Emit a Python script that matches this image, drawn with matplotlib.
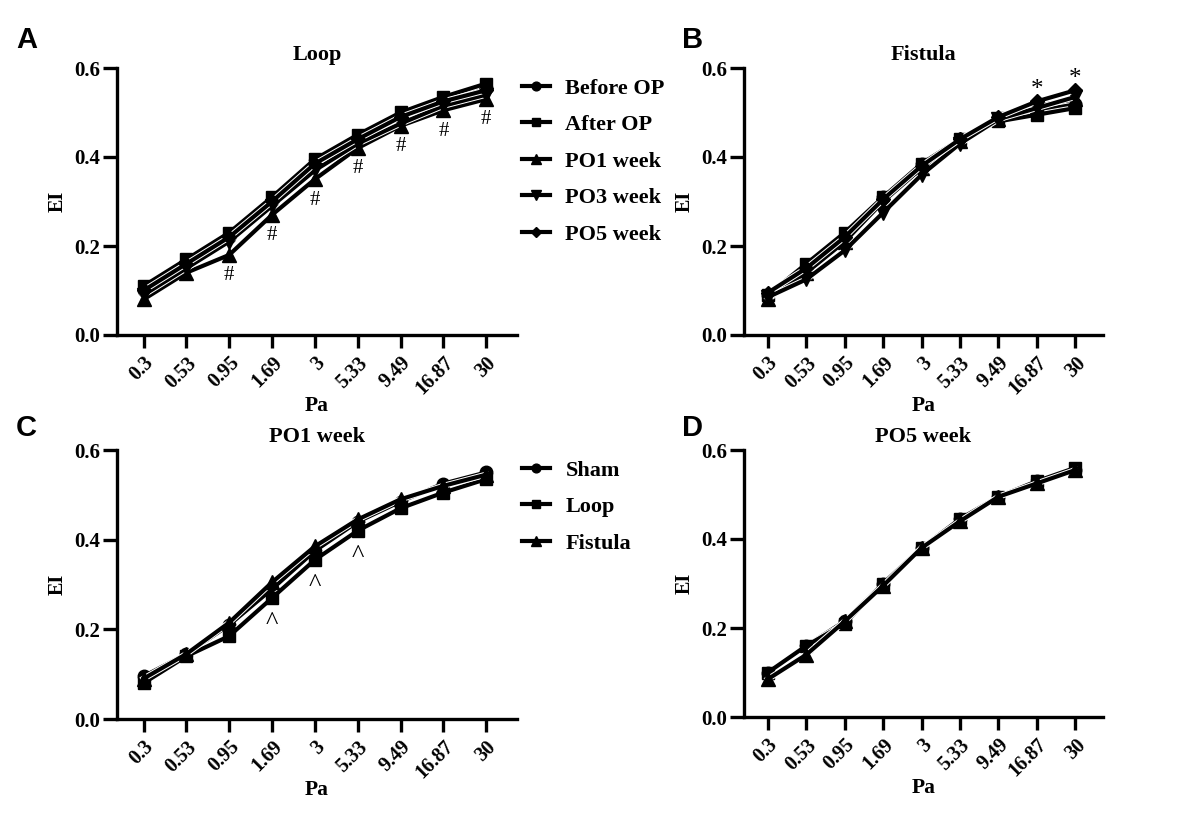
import matplotlib
matplotlib.use("Agg")
import matplotlib.pyplot as plt
import matplotlib.patheffects as pe
from matplotlib.lines import Line2D
import numpy as np

plt.rcParams['font.family'] = ['Liberation Serif', 'DejaVu Serif']
plt.rcParams['font.weight'] = 'bold'

pa_labels = ['0.3', '0.53', '0.95', '1.69', '3', '5.33', '9.49', '16.87', '30']

# panel A: Loop
loop_names = ['Before OP', 'After OP', 'PO1 week', 'PO3 week', 'PO5 week']
loop_before = [0.10, 0.16, 0.22, 0.30, 0.390, 0.445, 0.490, 0.530, 0.555]
loop_after = [0.11, 0.17, 0.23, 0.31, 0.395, 0.450, 0.500, 0.535, 0.565]
loop_po1 = [0.08, 0.14, 0.18, 0.27, 0.350, 0.420, 0.470, 0.505, 0.530]
loop_po3 = [0.09, 0.15, 0.21, 0.29, 0.370, 0.430, 0.475, 0.515, 0.540]
loop_po5 = [0.10, 0.16, 0.22, 0.30, 0.385, 0.440, 0.490, 0.525, 0.550]
loop_hash_idx = [2, 3, 4, 5, 6, 7, 8]

# panel B: Fistula
fis_before = [0.090, 0.150, 0.220, 0.310, 0.385, 0.440, 0.485, 0.505, 0.520]
fis_after = [0.090, 0.160, 0.230, 0.310, 0.385, 0.440, 0.480, 0.495, 0.510]
fis_po1 = [0.080, 0.140, 0.210, 0.300, 0.375, 0.435, 0.485, 0.515, 0.530]
fis_po3 = [0.085, 0.125, 0.190, 0.275, 0.360, 0.430, 0.485, 0.510, 0.535]
fis_po5 = [0.095, 0.150, 0.220, 0.305, 0.380, 0.440, 0.490, 0.525, 0.550]
fis_star_idx = [7, 8]

# panel C: PO1 week
grp_names = ['Sham', 'Loop', 'Fistula']
po1_sham = [0.095, 0.145, 0.210, 0.290, 0.375, 0.440, 0.485, 0.525, 0.550]
po1_loop = [0.080, 0.140, 0.185, 0.270, 0.355, 0.420, 0.470, 0.505, 0.535]
po1_fis = [0.090, 0.145, 0.215, 0.305, 0.385, 0.445, 0.490, 0.520, 0.545]
po1_caret_idx = [3, 4, 5]

# panel D: PO5 week
po5_sham = [0.100, 0.160, 0.215, 0.300, 0.380, 0.445, 0.495, 0.530, 0.555]
po5_loop = [0.100, 0.160, 0.210, 0.300, 0.380, 0.445, 0.495, 0.530, 0.560]
po5_fis = [0.085, 0.140, 0.215, 0.295, 0.380, 0.440, 0.495, 0.525, 0.555]

markers5 = ['o', 's', '^', 'v', 'D']
markers3 = ['o', 's', '^']
msizes = {'o': 9, 's': 9, '^': 10, 'v': 10, 'D': 7}

fig = plt.figure(figsize=(11.83, 8.21), dpi=100)

W, H = 1183, 821


def make_ax(l, r, t, b):
    return fig.add_axes([l / W, 1 - b / H, (r - l) / W, (b - t) / H])


def style(ax, title):
    x = np.arange(len(pa_labels))
    ax.set_xlim(-0.62, len(pa_labels) - 1 + 0.72)
    ax.set_ylim(0, 0.6)
    ax.set_yticks([0, 0.2, 0.4, 0.6])
    ax.set_yticklabels(['0.0', '0.2', '0.4', '0.6'])
    ax.set_xticks(x)
    ax.set_xticklabels(pa_labels, rotation=45, ha='right', rotation_mode='anchor')
    for s in ['top', 'right']:
        ax.spines[s].set_visible(False)
    for s in ['left', 'bottom']:
        ax.spines[s].set_linewidth(2.4)
    ax.tick_params(axis='y', length=10, width=2.4, labelsize=15, pad=2)
    ax.tick_params(axis='x', length=9, width=2.4, labelsize=14.5, pad=4)
    ax.set_xlabel('Pa', fontsize=15.5, fontweight='bold', labelpad=-2)
    ax.set_ylabel('EI', fontsize=14.5, fontweight='bold', labelpad=5)
    ax.set_title(title, fontsize=16, fontweight='bold', pad=6)


def draw(ax, series, names, markers):
    x = np.arange(len(pa_labels))
    handles = []
    for vals, name, m in zip(series, names, markers):
        ax.plot(x, vals, color='black', lw=3, clip_on=False,
                path_effects=[pe.Stroke(linewidth=4.4, foreground='white'), pe.Normal()])
        ax.plot(x, vals, color='black', ls='none', marker=m, ms=msizes[m], clip_on=False)
        handles.append(Line2D([], [], color='black', lw=3, marker=m,
                              ms=msizes[m] * 0.7, label=name))
    return handles


def legend(ax, handles, top):
    ax.legend(handles=handles, loc='upper left', bbox_to_anchor=(522 / W, 1 - top / H),
              bbox_transform=fig.transFigure, frameon=False, fontsize=16,
              borderpad=0, borderaxespad=0,
              handlelength=1.25, handletextpad=0.7, labelspacing=0.72)


axA = make_ax(117, 517, 68, 335)
hA = draw(axA, [loop_before, loop_after, loop_po1, loop_po3, loop_po5], loop_names, markers5)
style(axA, 'Loop')
for i in loop_hash_idx:
    axA.annotate('#', (i, loop_po1[i]), xytext=(0, -15), textcoords='offset points',
                 ha='center', va='center', fontsize=15, fontweight='normal')
legend(axA, hA, 78)

axB = make_ax(744, 1103, 68, 335)
draw(axB, [fis_before, fis_after, fis_po1, fis_po3, fis_po5], loop_names, markers5)
style(axB, 'Fistula')
for i in fis_star_idx:
    axB.annotate('*', (i, fis_po5[i]), xytext=(0, 0), textcoords='offset points',
                 ha='center', va='bottom', fontsize=18, fontweight='normal')

axC = make_ax(117, 517, 450, 719)
hC = draw(axC, [po1_sham, po1_loop, po1_fis], grp_names, markers3)
style(axC, 'PO1 week')
for i in po1_caret_idx:
    axC.annotate('^', (i, po1_loop[i]), xytext=(0, -18), textcoords='offset points',
                 ha='center', va='center', fontsize=19, fontweight='normal')
legend(axC, hC, 460)

axD = make_ax(744, 1103, 450, 717)
draw(axD, [po5_sham, po5_loop, po5_fis], grp_names, markers3)
style(axD, 'PO5 week')

for letter, (px, py) in zip('ABCD', [(16, 26), (682, 26), (16, 414), (682, 414)]):
    fig.text(px / W, 1 - py / H, letter, fontsize=21, fontweight='bold',
             family=['Liberation Sans', 'DejaVu Sans'], va='top', ha='left')

fig.savefig('out.png', dpi=100)
